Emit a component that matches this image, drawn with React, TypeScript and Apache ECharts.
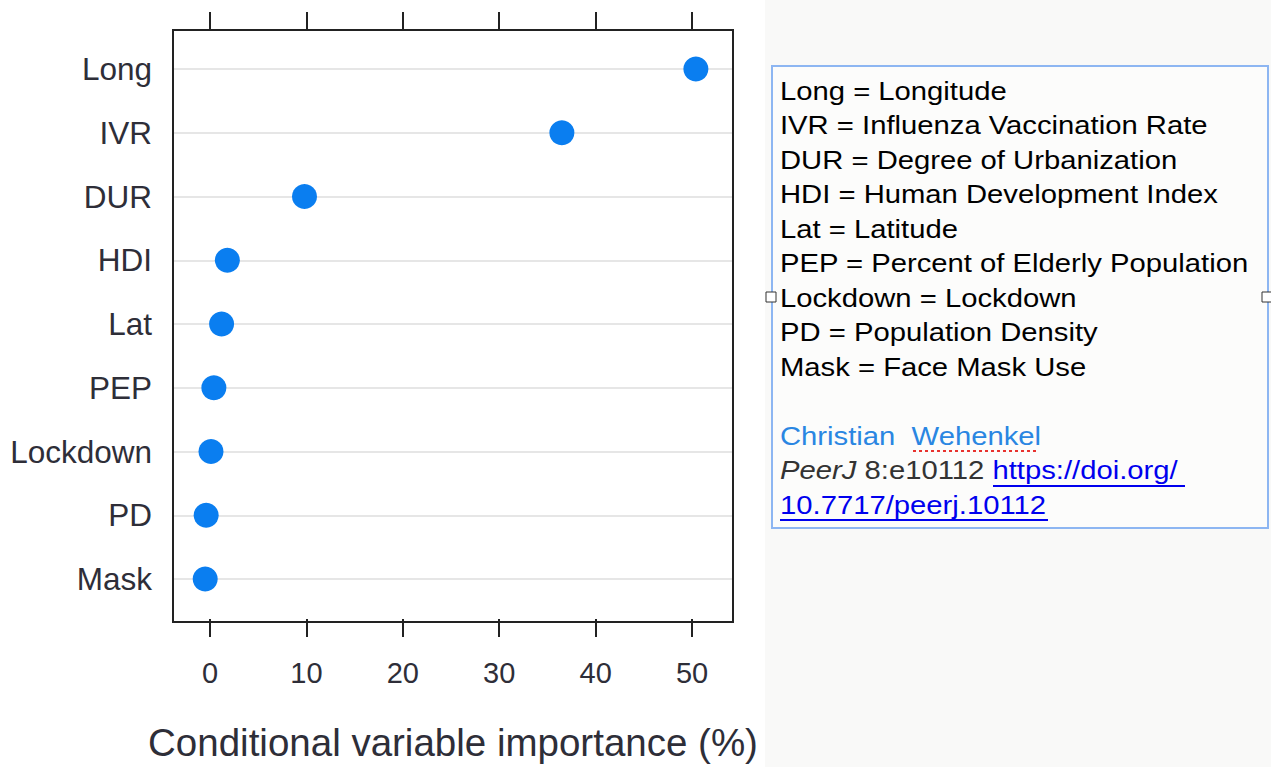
import React, { useEffect, useRef } from "react";
import * as echarts from "echarts";

const categories = ["Long", "IVR", "DUR", "HDI", "Lat", "PEP", "Lockdown", "PD", "Mask"];
const importance = [50.4, 36.5, 9.8, 1.8, 1.2, 0.4, 0.1, -0.4, -0.5];
const xTicks = [0, 10, 20, 30, 40, 50];
const xTitle = "Conditional variable importance (%)";
const glossary = [
  "Long = Longitude",
  "IVR = Influenza Vaccination Rate",
  "DUR = Degree of Urbanization",
  "HDI = Human Development Index",
  "Lat = Latitude",
  "PEP = Percent of Elderly Population",
  "Lockdown = Lockdown",
  "PD = Population Density",
  "Mask = Face Mask Use",
];
const authorFirst = "Christian";
const authorLast = "Wehenkel";
const journal = "PeerJ";
const article = "8:e10112";
const doiPart1 = "https://doi.org/";
const doiPart2 = "10.7717/peerj.10112";

export default function App() {
  const ref = useRef<HTMLDivElement>(null);
  useEffect(() => {
    if (!ref.current) return;
    const chart = echarts.init(ref.current, null, { renderer: "svg" });
    const font = "'Liberation Sans', Arial, Helvetica, sans-serif";
    const textX = 780;
    const lineY0 = 91;
    const pitch = 34.5;
    const sx = 1.17;
    const glossaryTexts = glossary.map((t, i) => ({
      type: "text",
      x: textX,
      y: lineY0 + i * pitch,
      scaleX: sx,
      z: 20,
      style: {
        text: t,
        x: 0,
        y: 0,
        fill: "#000",
        font: `25px ${font}`,
        verticalAlign: "middle",
        align: "left",
      },
    }));
    const yA = lineY0 + 10 * pitch;
    const yB = lineY0 + 11 * pitch;
    const yC = lineY0 + 12 * pitch;
    chart.setOption({
      animation: false,
      backgroundColor: "#ffffff",
      grid: { left: 173, right: 538, top: 69, bottom: 185, containLabel: false },
      xAxis: [
        {
          type: "value",
          position: "bottom",
          min: -3.84,
          max: 54.25,
          offset: 40,
          axisLine: { show: false },
          splitLine: { show: false },
          axisTick: {
            show: true,
            customValues: xTicks,
            length: 18,
            lineStyle: { color: "#222", width: 2 },
          },
          axisLabel: {
            customValues: xTicks,
            fontSize: 29,
            fontFamily: font,
            color: "#2e2e38",
            margin: 39,
          },
          name: xTitle,
          nameLocation: "middle",
          nameGap: 104,
          nameTextStyle: { fontSize: 38.5, fontFamily: font, color: "#2e2e38" },
        },
        {
          type: "value",
          position: "top",
          min: -3.84,
          max: 54.25,
          offset: 39,
          axisLine: { show: false },
          splitLine: { show: false },
          axisTick: {
            show: true,
            customValues: xTicks,
            length: 18,
            lineStyle: { color: "#222", width: 2 },
          },
          axisLabel: { show: false },
        },
      ],
      yAxis: {
        type: "category",
        data: categories,
        inverse: true,
        boundaryGap: false,
        axisLine: { show: false },
        axisTick: { show: false },
        axisLabel: {
          fontSize: 31.5,
          fontFamily: font,
          color: "#2e2e38",
          margin: 21,
          padding: [6, 0, 0, 0],
        },
        splitLine: { show: true, lineStyle: { color: "#e6e6e6", width: 2 } },
      },
      series: [
        {
          type: "scatter",
          xAxisIndex: 0,
          data: importance.map((v, i) => [v, categories[i]]),
          symbol: "circle",
          symbolSize: 25,
          itemStyle: { color: "#0a7ef0", opacity: 1 },
          z: 5,
        },
      ],
      graphic: [
        {
          type: "rect",
          z: -10,
          shape: { x: 765, y: 0, width: 506, height: 767 },
          style: { fill: "#f9f9f8" },
        },
        {
          type: "rect",
          z: 10,
          shape: { x: 173, y: 30, width: 560, height: 592 },
          style: { fill: "none", stroke: "#222", lineWidth: 2 },
        },
        {
          type: "rect",
          z: 10,
          shape: { x: 772, y: 66, width: 496, height: 462 },
          style: { fill: "#fcfcfb", stroke: "#8db6f2", lineWidth: 2 },
        },
        {
          type: "rect",
          z: 25,
          shape: { x: 766, y: 292, width: 10, height: 10 },
          style: { fill: "#fff", stroke: "#333", lineWidth: 1 },
        },
        {
          type: "rect",
          z: 25,
          shape: { x: 1262, y: 292, width: 10, height: 10 },
          style: { fill: "#fff", stroke: "#333", lineWidth: 1 },
        },
        ...glossaryTexts,
        {
          type: "text",
          x: textX,
          y: yA,
          scaleX: sx,
          z: 20,
          style: {
            text: `${authorFirst}  ${authorLast}`,
            x: 0,
            y: 0,
            fill: "#2a86e2",
            font: `25px ${font}`,
            verticalAlign: "middle",
          },
        },
        {
          type: "line",
          z: 20,
          shape: { x1: 913, y1: 451, x2: 1038, y2: 451 },
          style: { stroke: "#e8322e", lineWidth: 2, lineDash: [3, 3] },
        },
        {
          type: "text",
          x: textX,
          y: yB,
          scaleX: sx,
          z: 20,
          style: {
            text: `{i|${journal}} {n|${article}} {l|${doiPart1}}`,
            x: 0,
            y: 0,
            verticalAlign: "middle",
            font: `25px ${font}`,
            rich: {
              i: { fill: "#333", fontStyle: "italic", fontSize: 25, fontFamily: font },
              n: { fill: "#333", fontSize: 25, fontFamily: font },
              l: { fill: "#0000ee", fontSize: 25, fontFamily: font },
            },
          },
        },
        {
          type: "line",
          z: 20,
          shape: { x1: 993, y1: 486, x2: 1185, y2: 486 },
          style: { stroke: "#0000ee", lineWidth: 2 },
        },
        {
          type: "text",
          x: textX,
          y: yC,
          scaleX: sx,
          z: 20,
          style: {
            text: doiPart2,
            x: 0,
            y: 0,
            fill: "#0000ee",
            font: `25px ${font}`,
            verticalAlign: "middle",
          },
        },
        {
          type: "line",
          z: 20,
          shape: { x1: 780, y1: 520, x2: 1048, y2: 520 },
          style: { stroke: "#0000ee", lineWidth: 2 },
        },
      ],
    });
    return () => chart.dispose();
  }, []);
  return (
    <div
      ref={ref}
      style={{ position: "absolute", left: 0, top: 0, width: 1271, height: 767, background: "#fff" }}
    />
  );
}
